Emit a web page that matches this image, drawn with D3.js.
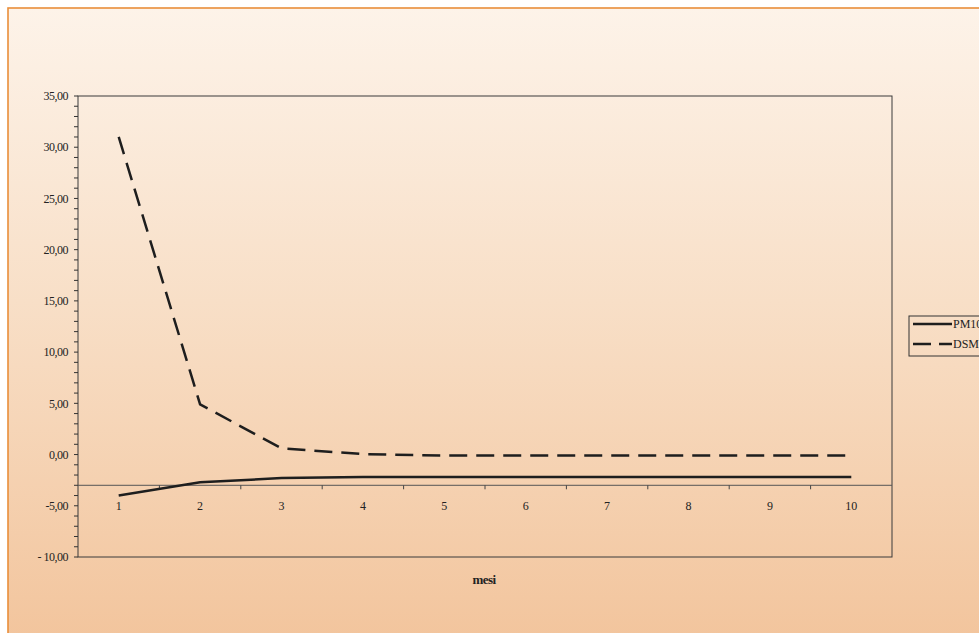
<!DOCTYPE html>
<html>
<head>
<meta charset="utf-8">
<script src="https://cdn.jsdelivr.net/npm/d3@7/dist/d3.min.js"></script>
<style>
  html, body { margin: 0; padding: 0; background: #fff; overflow: hidden; }
  text { font-family: "Liberation Serif", "DejaVu Serif", serif; }
</style>
</head>
<body>
<div id="output"></div>
<script>
var w = 979;
var h = 633;

// data
var months = [1, 2, 3, 4, 5, 6, 7, 8, 9, 10];
var pm10 = [-4.0, -2.7, -2.3, -2.2, -2.2, -2.2, -2.2, -2.2, -2.2, -2.2];
var dsm = [31.0, 4.9, 0.6, 0.05, -0.1, -0.1, -0.1, -0.1, -0.1, -0.1];
var yTicks = [35, 30, 25, 20, 15, 10, 5, 0, -5, -10];
var seriesNames = ['PM10', 'DSM'];
var xTitle = 'mesi';

var plot = {left: 78, right: 892, top: 96, bottom: 557};

var svg = d3.select('#output').append('svg')
	.attr('width', w)
	.attr('height', h);

var defs = svg.append('defs');
var grad = defs.append('linearGradient')
	.attr('id', 'bg')
	.attr('x1', 0).attr('y1', 0).attr('x2', 0).attr('y2', 1);
grad.append('stop').attr('offset', '0%').attr('stop-color', '#fdf3e9');
grad.append('stop').attr('offset', '45%').attr('stop-color', '#f8dfc7');
grad.append('stop').attr('offset', '100%').attr('stop-color', '#f2c39a');

// chart area with orange border
svg.append('rect')
	.attr('x', 8).attr('y', 8)
	.attr('width', w + 20).attr('height', h + 20)
	.attr('fill', 'url(#bg)')
	.attr('stroke', '#e98e3a')
	.attr('stroke-width', 1.6);

var x = d3.scaleBand()
	.domain(months)
	.range([plot.left, plot.right]);

var y = d3.scaleLinear()
	.domain([-10, 35])
	.range([plot.bottom, plot.top]);

function fmt(v) {
	var s = d3.format('.2f')(Math.abs(v)).replace('.', ',');
	if (v < 0) { return (v <= -10 ? '- ' : '-') + s; }
	return s;
}

// plot frame
svg.append('rect')
	.attr('x', plot.left).attr('y', plot.top)
	.attr('width', plot.right - plot.left)
	.attr('height', plot.bottom - plot.top)
	.attr('fill', 'none')
	.attr('stroke', '#3a3a3a')
	.attr('stroke-width', 1);

// y axis: major + minor ticks
var yAxis = svg.append('g')
	.attr('transform', 'translate(' + plot.left + ',0)');
yAxis.selectAll('line.minor')
	.data(d3.range(-10, 36, 1))
	.enter().append('line')
	.attr('x1', -4).attr('x2', 0)
	.attr('y1', function (d) { return y(d); })
	.attr('y2', function (d) { return y(d); })
	.attr('stroke', '#333')
	.attr('stroke-width', 1);
yAxis.selectAll('text')
	.data(yTicks)
	.enter().append('text')
	.text(function (d) { return fmt(d); })
	.attr('x', -10)
	.attr('y', function (d) { return y(d); })
	.attr('dy', '0.35em')
	.attr('text-anchor', 'end')
	.attr('font-size', 12)
	.attr('letter-spacing', '-0.5')
	.attr('fill', '#222');

// x axis crossing at -3
var axisY = y(-3);
svg.append('line')
	.attr('x1', plot.left).attr('x2', plot.right)
	.attr('y1', axisY).attr('y2', axisY)
	.attr('stroke', '#555')
	.attr('stroke-width', 1);
svg.selectAll('line.xtick')
	.data(months.slice(1))
	.enter().append('line')
	.attr('class', 'xtick')
	.attr('x1', function (d) { return x(d); })
	.attr('x2', function (d) { return x(d); })
	.attr('y1', axisY).attr('y2', axisY + 4)
	.attr('stroke', '#444');
svg.selectAll('text.xlab')
	.data(months)
	.enter().append('text')
	.attr('class', 'xlab')
	.text(function (d) { return d; })
	.attr('x', function (d) { return x(d) + x.bandwidth() / 2; })
	.attr('y', axisY + 25)
	.attr('text-anchor', 'middle')
	.attr('font-size', 12)
	.attr('fill', '#222');

svg.append('text')
	.text(xTitle)
	.attr('x', 484)
	.attr('y', 584)
	.attr('text-anchor', 'middle')
	.attr('font-size', 13)
	.attr('font-weight', 'bold')
	.attr('letter-spacing', '-0.6')
	.attr('fill', '#222');

// series
var line = d3.line()
	.x(function (d, i) { return x(months[i]) + x.bandwidth() / 2; })
	.y(function (d) { return y(d); });

svg.append('path')
	.datum(pm10)
	.attr('d', line)
	.attr('fill', 'none')
	.attr('stroke', '#1e1e1e')
	.attr('stroke-width', 2.5);

svg.append('path')
	.datum(dsm)
	.attr('d', line)
	.attr('fill', 'none')
	.attr('stroke', '#1e1e1e')
	.attr('stroke-width', 2.5)
	.attr('stroke-dasharray', '18,9');

// legend
var lg = svg.append('g').attr('transform', 'translate(909,316)');
lg.append('rect')
	.attr('width', 120).attr('height', 40)
	.attr('fill', 'none')
	.attr('stroke', '#333')
	.attr('stroke-width', 1);
lg.selectAll('line')
	.data(seriesNames)
	.enter().append('line')
	.attr('x1', 4).attr('x2', 43)
	.attr('y1', function (d, i) { return 8 + i * 20; })
	.attr('y2', function (d, i) { return 8 + i * 20; })
	.attr('stroke', '#1e1e1e')
	.attr('stroke-width', 2.5)
	.attr('stroke-dasharray', function (d, i) { return i ? '18,8' : null; });
lg.selectAll('text')
	.data(seriesNames)
	.enter().append('text')
	.text(function (d) { return d; })
	.attr('x', 44)
	.attr('y', function (d, i) { return 8 + i * 20; })
	.attr('dy', '0.35em')
	.attr('font-size', 12)
	.attr('fill', '#222');
</script>
</body>
</html>
